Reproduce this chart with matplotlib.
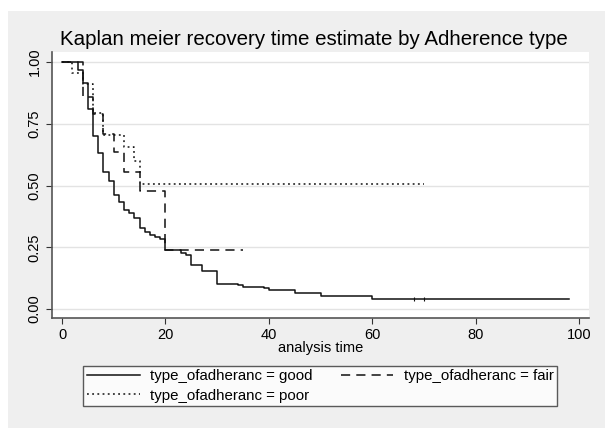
import numpy as np
import matplotlib.pyplot as plt
from matplotlib.patches import Rectangle

plt.rcParams['font.family'] = ['Liberation Sans', 'DejaVu Sans']

# Kaplan-Meier steps
good_t = [0, 3, 4, 5, 6, 7, 8, 9, 10, 11, 12, 13, 14, 15, 16, 17, 18, 19, 20,
          23, 24, 25, 27, 30, 34, 35, 39, 40, 45, 50, 60, 98]
good_s = [1.0, 0.967, 0.913, 0.81, 0.70, 0.63, 0.556, 0.518, 0.46, 0.434, 0.40,
          0.387, 0.37, 0.327, 0.31, 0.30, 0.293, 0.283, 0.24, 0.228, 0.219,
          0.178, 0.155, 0.102, 0.098, 0.090, 0.084, 0.077, 0.066, 0.055, 0.040, 0.040]
good_cens = [68, 70]

fair_t = [0, 4, 6, 8, 10, 12, 15, 20, 35]
fair_s = [1.0, 0.857, 0.79, 0.71, 0.637, 0.556, 0.478, 0.238, 0.238]

poor_t = [0, 2, 4, 6, 8, 12, 14, 15, 70]
poor_s = [1.0, 0.955, 0.909, 0.795, 0.705, 0.655, 0.60, 0.505, 0.505]

x_ticks = [0, 20, 40, 60, 80, 100]
y_ticks = [0.0, 0.25, 0.5, 0.75, 1.0]
y_labels = ['0.00', '0.25', '0.50', '0.75', '1.00']

fig = plt.figure(figsize=(6.05, 4.34), dpi=100)
fig.patch.set_facecolor('white')
fig.patches.append(Rectangle((0.0132, 0.0138), 0.99, 0.961, transform=fig.transFigure,
                             facecolor='#efefef', edgecolor='none', zorder=-10))

ax = fig.add_axes([0.086, 0.2673, 0.8876, 0.6127])
ax.set_facecolor('white')

lc = '#111111'
l1, = ax.step(good_t, good_s, where='post', color=lc, lw=1.1)
ax.plot(good_cens, [good_s[-1]] * len(good_cens), linestyle='none', marker='|',
        color=lc, markersize=2.5, mew=0.8)
l2, = ax.step(fair_t, fair_s, where='post', color=lc, lw=1.1, dashes=(6, 4))
l3, = ax.step(poor_t, poor_s, where='post', color=lc, lw=1.1, dashes=(1.2, 2.2))

ax.set_xlim(-1.93, 101.9)
ax.set_ylim(-0.036, 1.04)
ax.set_xticks(x_ticks)
ax.set_yticks(y_ticks)
ax.set_yticklabels(y_labels, rotation=90, va='center')
ax.tick_params(axis='both', direction='out', length=4, width=0.8, colors='#333333',
               labelsize=10.5, labelcolor='black')
ax.grid(axis='y', color='#e3e3e3', lw=1)
ax.set_axisbelow(True)
for s in ['top', 'right']:
    ax.spines[s].set_visible(False)
for s in ['left', 'bottom']:
    ax.spines[s].set_color('#555555')
    ax.spines[s].set_linewidth(1.2)

ax.set_xlabel('analysis time', fontsize=10.5, labelpad=-1)
fig.text(0.519, 0.910, 'Kaplan meier recovery time estimate by Adherence type',
         ha='center', va='center', fontsize=14.8)

leg = fig.legend([l1, l3, l2],
                 ['type_ofadheranc = good', 'type_ofadheranc = poor',
                  'type_ofadheranc = fair'],
                 ncol=2, loc='lower left', bbox_to_anchor=(0.1256, 0.0461, 0.808, 0.111),
                 mode='expand', fontsize=10.8, handlelength=3.5, handletextpad=0.7,
                 borderpad=0.25, labelspacing=0.35, columnspacing=1.5,
                 fancybox=False, frameon=True)
leg.get_frame().set_edgecolor('#333333')
leg.get_frame().set_linewidth(1.0)

fig.savefig('out.png', dpi=100)
